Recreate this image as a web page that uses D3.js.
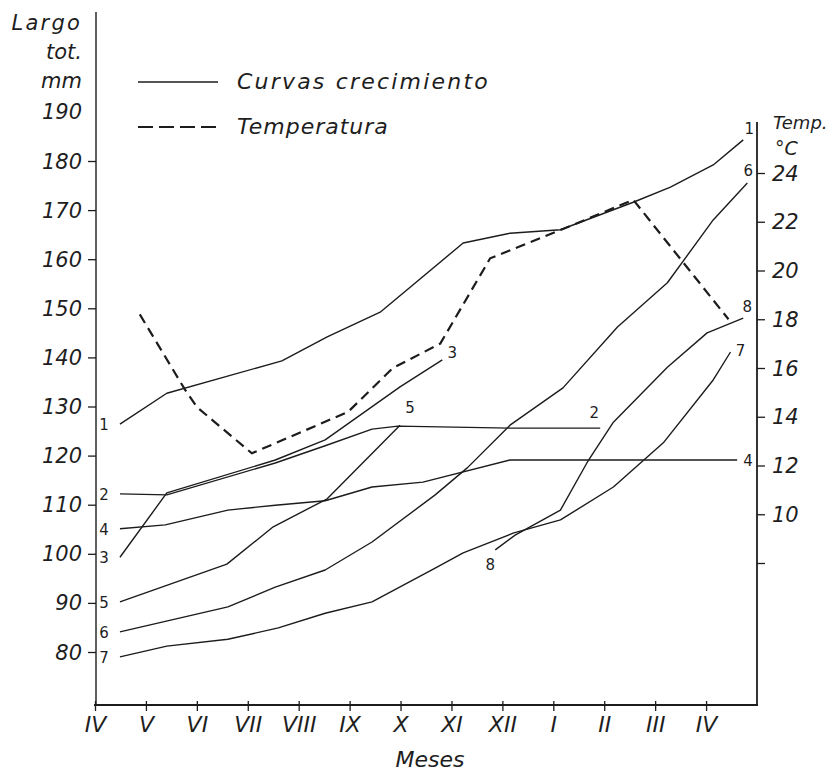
<!DOCTYPE html>
<html>
<head>
<meta charset="utf-8">
<script src="https://cdn.jsdelivr.net/npm/d3@7"></script>
<style>
  html, body { margin: 0; padding: 0; background: #ffffff; }
  svg { display: block; }
  text { font-family: "DejaVu Sans", sans-serif; fill: #1e1e1e; }
</style>
</head>
<body>
<svg id="chart" width="837" height="776"></svg>
<script>
// ---------- DATA ----------
const months = ["IV","V","VI","VII","VIII","IX","X","XI","XII","I","II","III","IV"];
const lengthTicks = [80, 90, 100, 110, 120, 130, 140, 150, 160, 170, 180];
const lengthLabels = [80, 90, 100, 110, 120, 130, 140, 150, 160, 170, 180, 190];
const tempTicks = [8, 10, 12, 14, 16, 18, 20, 22, 24];
const tempLabels = [10, 12, 14, 16, 18, 20, 22, 24];

// growth curves: [month position, total length mm]
const curve1 = [[0.49,126.4],[1.41,132.7],[3.67,139.3],[4.56,144.2],[5.60,149.2],[7.23,163.3],[8.15,165.3],[9.14,166.0],[10.57,171.6],[11.30,174.7],[12.14,179.2],[12.73,184.3]];
const curve2 = [[0.49,112.2],[1.41,112.0],[3.54,118.5],[4.52,122.0],[5.44,125.4],[5.95,126.0],[8.15,125.6],[9.92,125.6]];
const curve3 = [[0.49,99.3],[1.41,112.4],[3.54,119.1],[4.52,123.2],[5.99,134.0],[6.82,139.5]];
const curve4 = [[0.49,105.1],[1.38,105.9],[2.61,108.9],[3.54,109.9],[4.52,110.8],[5.44,113.6],[6.44,114.6],[8.15,119.1],[12.61,119.1]];
const curve5 = [[0.49,90.2],[2.59,97.9],[3.50,105.5],[4.56,111.2],[5.99,126.2]];
const curve6 = [[0.49,84.1],[2.61,89.2],[3.54,93.2],[4.52,96.7],[5.44,102.4],[6.68,112.0],[7.31,117.5],[8.15,126.2],[9.19,133.8],[10.26,146.2],[11.24,155.2],[12.14,168.0],[12.81,175.5]];
const curve7 = [[0.49,79.0],[1.41,81.2],[2.61,82.6],[3.60,84.9],[4.52,87.9],[5.44,90.2],[6.68,97.1],[7.23,100.2],[8.21,104.2],[9.14,106.9],[10.18,113.6],[11.16,122.6],[12.14,135.4],[12.48,141.1]];
const curve8 = [[7.86,100.8],[8.25,103.8],[9.14,108.9],[9.67,118.7],[10.18,126.8],[11.24,138.0],[12.02,145.0],[12.73,148.0]];

// temperature: [month position, °C]
const temperature = [[0.88,18.2],[1.77,15.1],[2.0,14.4],[3.08,12.5],[4.97,14.2],[5.85,16.0],[6.78,17.0],[7.76,20.5],[9.19,21.7],[10.57,22.9],[12.44,18.0]];

const curveNames = ["1","2","3","4","5","6","7","8"];
const curves = [curve1, curve2, curve3, curve4, curve5, curve6, curve7, curve8];

const legendLabels = ["Curvas crecimiento", "Temperatura"];
const leftTitle = ["Largo", "tot.", "mm"];
const rightTitle = ["Temp.", "°C"];
const xTitle = "Meses";

// ---------- LAYOUT ----------
const svg = d3.select("#chart");
const ink = "#1c1c1c";
const x = d3.scaleLinear().domain([0, 13]).range([95, 757]);
const yL = d3.scaleLinear().domain([80, 180]).range([652, 161]);
const yT = d3.scaleLinear().domain([8, 24]).range([563, 173]);
const baseY = 705, leftX = 96, rightX = 757;

// frame lines
svg.append("line").attr("x1", leftX).attr("x2", leftX).attr("y1", 12).attr("y2", baseY)
  .attr("stroke", ink).attr("stroke-width", 1.4);
svg.append("line").attr("x1", rightX).attr("x2", rightX).attr("y1", 122).attr("y2", baseY)
  .attr("stroke", ink).attr("stroke-width", 1.8);
svg.append("line").attr("x1", 94).attr("x2", rightX + 1).attr("y1", baseY).attr("y2", baseY)
  .attr("stroke", ink).attr("stroke-width", 2);

// left axis
const gL = svg.append("g").attr("transform", `translate(${leftX},0)`)
  .call(d3.axisLeft(yL).tickValues(lengthTicks).tickSize(8).tickFormat(""));
gL.select(".domain").remove();
gL.selectAll(".tick line").attr("stroke", ink).attr("stroke-width", 1.3);
svg.append("g").selectAll("text").data(lengthLabels).join("text")
  .attr("x", 82).attr("y", d => yL(d)).attr("dy", "0.36em")
  .attr("text-anchor", "end").attr("font-size", 21).attr("font-style", "italic")
  .text(d => d);

// left title
svg.append("g").selectAll("text").data(leftTitle).join("text")
  .attr("x", 82).attr("y", (d, i) => 30 + i * 29)
  .attr("text-anchor", "end").attr("font-size", 21).attr("font-style", "italic")
  .attr("letter-spacing", (d, i) => i === 0 ? 2.2 : 0)
  .text(d => d);

// right axis
const gR = svg.append("g").attr("transform", `translate(${rightX},0)`)
  .call(d3.axisRight(yT).tickValues(tempTicks).tickSize(8).tickFormat(""));
gR.select(".domain").remove();
gR.selectAll(".tick line").attr("stroke", ink).attr("stroke-width", 1.3);
svg.append("g").selectAll("text").data(tempLabels).join("text")
  .attr("x", 772).attr("y", d => yT(d)).attr("dy", "0.36em")
  .attr("text-anchor", "start").attr("font-size", 21).attr("font-style", "italic")
  .text(d => d);
svg.append("g").selectAll("text").data(rightTitle).join("text")
  .attr("x", (d, i) => i === 0 ? 773 : 775).attr("y", (d, i) => i === 0 ? 129 : 155)
  .attr("font-size", (d, i) => i === 0 ? 18 : 19).attr("font-style", "italic")
  .text(d => d);

// bottom axis
const gB = svg.append("g").attr("transform", `translate(0,${baseY})`)
  .call(d3.axisBottom(x).tickValues(d3.range(months.length)).tickSize(6).tickFormat(i => months[i]));
gB.select(".domain").remove();
gB.selectAll(".tick line").attr("stroke", ink).attr("stroke-width", 1.3).attr("y1", -4);
gB.selectAll(".tick text").attr("y", 27).attr("dy", 0)
  .attr("font-size", 22).attr("font-style", "italic")
  .attr("font-family", "DejaVu Sans, sans-serif").attr("fill", ink);
svg.append("text").attr("x", 430).attr("y", 767).attr("text-anchor", "middle")
  .attr("font-size", 22).attr("font-style", "italic").text(xTitle);

// growth curves
const lineL = d3.line().x(d => x(d[0])).y(d => yL(d[1]));
svg.append("g").selectAll("path").data(curves).join("path")
  .attr("d", lineL).attr("fill", "none").attr("stroke", ink)
  .attr("stroke-width", 1.4).attr("stroke-linejoin", "round");

// temperature
const lineT = d3.line().x(d => x(d[0])).y(d => yT(d[1]));
svg.append("path").datum(temperature).attr("d", lineT)
  .attr("fill", "none").attr("stroke", ink).attr("stroke-width", 2.2)
  .attr("stroke-dasharray", "10,6");

// curve number labels
const numStyle = sel => sel.attr("font-size", 15).attr("font-family", "DejaVu Sans, sans-serif");
// left side (start of curves 1-7)
svg.append("g").selectAll("text").data(curves.slice(0, 7)).join("text")
  .attr("x", 104).attr("y", d => yL(d[0][1])).attr("dy", "0.4em")
  .attr("text-anchor", "middle").call(numStyle)
  .text((d, i) => curveNames[i]);
// end-of-curve labels
const endLabels = [
  { i: 0, dx: 6, dy: -6 },
  { i: 1, dx: -6, dy: -10 },
  { i: 2, dx: 10, dy: -2 },
  { i: 3, dx: 11, dy: 6 },
  { i: 4, dx: 10, dy: -12 },
  { i: 5, dx: 1, dy: -7 },
  { i: 6, dx: 10, dy: 4 },
  { i: 7, dx: 4, dy: -6 }
];
svg.append("g").selectAll("text").data(endLabels).join("text")
  .attr("x", d => x(curves[d.i][curves[d.i].length - 1][0]) + d.dx)
  .attr("y", d => yL(curves[d.i][curves[d.i].length - 1][1]) + d.dy)
  .attr("text-anchor", "middle").call(numStyle)
  .text(d => curveNames[d.i]);
// start label of curve 8 (below its start)
svg.append("text").attr("x", x(curve8[0][0]) - 5).attr("y", yL(curve8[0][1]) + 20)
  .attr("text-anchor", "middle").call(numStyle).text(curveNames[7]);

// legend
const lg = svg.append("g");
lg.append("line").attr("x1", 138).attr("x2", 218).attr("y1", 82).attr("y2", 82)
  .attr("stroke", ink).attr("stroke-width", 1.4);
lg.append("line").attr("x1", 138).attr("x2", 218).attr("y1", 127).attr("y2", 127)
  .attr("stroke", ink).attr("stroke-width", 2.2).attr("stroke-dasharray", "15,6");
lg.selectAll("text").data(legendLabels).join("text")
  .attr("x", 237).attr("y", (d, i) => 89 + i * 45)
  .attr("font-size", 22).attr("font-style", "italic")
  .attr("letter-spacing", (d, i) => i === 0 ? 2.2 : 1)
  .text(d => d);
</script>
</body>
</html>
